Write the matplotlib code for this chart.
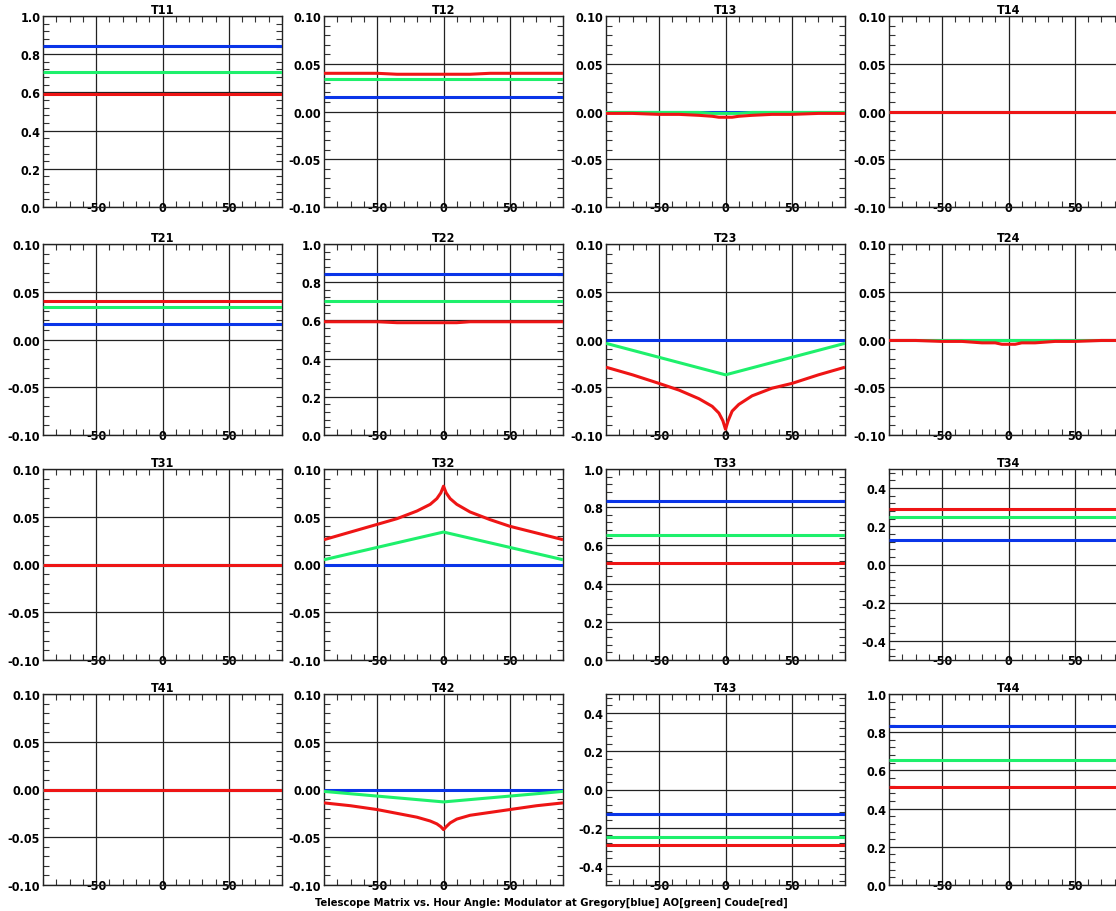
import matplotlib
matplotlib.use('Agg')
import matplotlib.pyplot as plt
from matplotlib.ticker import AutoMinorLocator, FormatStrFormatter

plt.rcParams['font.family'] = ['Liberation Sans Narrow', 'DejaVu Sans']
plt.rcParams['font.weight'] = 'bold'
plt.rcParams['font.stretch'] = 'condensed'
plt.rcParams['axes.unicode_minus'] = False

# hour angle samples (deg)
ha_ends = [-90, 90]
ha_v = [-90, 0, 90]
ha_fine = [-90, -70, -50, -35, -20, -10, -5, -2, 0, 2, 5, 10, 20, 35, 50, 70, 90]

# row 1
t11_blue = [0.842, 0.842]
t11_green = [0.706, 0.706]
t11_red = [0.594, 0.594]

t12_blue = [0.015, 0.015]
t12_green = [0.034, 0.034]
t12_red = [0.040, 0.040, 0.040, 0.039, 0.039, 0.039, 0.039, 0.039, 0.039,
           0.039, 0.039, 0.039, 0.039, 0.040, 0.040, 0.040, 0.040]

t13_blue = [0.0, 0.0]
t13_green = [-0.001, -0.001, -0.001, -0.001, -0.001, -0.002, -0.002, -0.002, -0.002,
             -0.002, -0.002, -0.002, -0.001, -0.001, -0.001, -0.001, -0.001]
t13_red = [-0.002, -0.002, -0.003, -0.003, -0.004, -0.005, -0.006, -0.006, -0.006,
           -0.006, -0.006, -0.005, -0.004, -0.003, -0.003, -0.002, -0.002]

t14_blue = [0.0, 0.0]
t14_green = [0.0, 0.0]
t14_red = [0.0, 0.0]

# row 2
t21_blue = [0.016, 0.016]
t21_green = [0.034, 0.034]
t21_red = [0.040, 0.040]

t22_blue = [0.842, 0.842]
t22_green = [0.704, 0.704]
t22_red = [0.593, 0.593, 0.593, 0.588, 0.588, 0.588, 0.588, 0.588, 0.588,
           0.588, 0.588, 0.588, 0.593, 0.593, 0.593, 0.593, 0.593]

t23_blue = [0.0, 0.0]
t23_green = [-0.004, -0.037, -0.004]
t23_red = [-0.029, -0.037, -0.046, -0.053, -0.062, -0.070, -0.077, -0.085, -0.094,
           -0.085, -0.075, -0.068, -0.059, -0.051, -0.046, -0.037, -0.029]

t24_blue = [0.0, 0.0]
t24_green = [0.0, 0.0]
t24_red = [-0.001, -0.001, -0.002, -0.002, -0.0035, -0.0035, -0.005, -0.005, -0.005,
           -0.005, -0.005, -0.0035, -0.0035, -0.002, -0.002, -0.001, -0.001]

# row 3
t31_blue = [0.0, 0.0]
t31_green = [0.0, 0.0]
t31_red = [0.0, 0.0]

t32_blue = [-0.001, -0.001]
t32_green = [0.005, 0.034, 0.005]
t32_red = [0.026, 0.034, 0.042, 0.048, 0.056, 0.063, 0.069, 0.075, 0.082,
           0.075, 0.069, 0.063, 0.055, 0.047, 0.040, 0.033, 0.026]

t33_blue = [0.83, 0.83]
t33_green = [0.653, 0.653]
t33_red = [0.506, 0.506]

t34_blue = [0.128, 0.128]
t34_green = [0.251, 0.251]
t34_red = [0.290, 0.290]

# row 4
t41_blue = [0.0, 0.0]
t41_green = [0.0, 0.0]
t41_red = [0.0, 0.0]

t42_blue = [-0.001, -0.001]
t42_green = [-0.002, -0.013, -0.002]
t42_red = [-0.014, -0.017, -0.021, -0.025, -0.029, -0.033, -0.036, -0.039, -0.042,
           -0.039, -0.035, -0.031, -0.027, -0.024, -0.021, -0.017, -0.014]

t43_blue = [-0.127, -0.127]
t43_green = [-0.250, -0.250]
t43_red = [-0.289, -0.289]

t44_blue = [0.833, 0.833]
t44_green = [0.657, 0.657]
t44_red = [0.515, 0.515]

BLUE = '#0a35e8'
GREEN = '#1ef06c'
RED = '#ee1515'


def pick_x(vals):
    if len(vals) == 2:
        return ha_ends
    if len(vals) == 3:
        return ha_v
    return ha_fine


panels = [
    ('T11', 'unit', t11_blue, t11_green, t11_red),
    ('T12', 'small', t12_blue, t12_green, t12_red),
    ('T13', 'small', t13_blue, t13_green, t13_red),
    ('T14', 'small', t14_blue, t14_green, t14_red),
    ('T21', 'small', t21_blue, t21_green, t21_red),
    ('T22', 'unit', t22_blue, t22_green, t22_red),
    ('T23', 'small', t23_blue, t23_green, t23_red),
    ('T24', 'small', t24_blue, t24_green, t24_red),
    ('T31', 'small', t31_blue, t31_green, t31_red),
    ('T32', 'small', t32_blue, t32_green, t32_red),
    ('T33', 'unit', t33_blue, t33_green, t33_red),
    ('T34', 'half', t34_blue, t34_green, t34_red),
    ('T41', 'small', t41_blue, t41_green, t41_red),
    ('T42', 'small', t42_blue, t42_green, t42_red),
    ('T43', 'half', t43_blue, t43_green, t43_red),
    ('T44', 'unit', t44_blue, t44_green, t44_red),
]

W, H = 1116, 912
fig = plt.figure(figsize=(W / 100, H / 100), dpi=100)

col_left = [43, 324, 606, 889]
row_top = [17, 245, 470, 695]
ax_w, ax_h = 239, 191

for i, (name, kind, blue, green, red) in enumerate(panels):
    r, c = divmod(i, 4)
    ax = fig.add_axes([col_left[c] / W, 1 - (row_top[r] + ax_h) / H, ax_w / W, ax_h / H])

    ax.plot(pick_x(blue), blue, color=BLUE, lw=2.2, solid_capstyle='butt', zorder=3)
    ax.plot(pick_x(green), green, color=GREEN, lw=2.2, solid_capstyle='butt', zorder=4)
    ax.plot(pick_x(red), red, color=RED, lw=2.2, solid_capstyle='butt', zorder=5)

    ax.set_xlim(-90, 90)
    ax.set_xticks([-50, 0, 50])
    if kind == 'unit':
        ax.set_ylim(0, 1.0)
        ax.set_yticks([0.0, 0.2, 0.4, 0.6, 0.8, 1.0])
        ax.yaxis.set_major_formatter(FormatStrFormatter('%.1f'))
    elif kind == 'half':
        ax.set_ylim(-0.5, 0.5)
        ax.set_yticks([-0.4, -0.2, 0.0, 0.2, 0.4])
        ax.yaxis.set_major_formatter(FormatStrFormatter('%.1f'))
    else:
        ax.set_ylim(-0.1, 0.1)
        ax.set_yticks([-0.10, -0.05, 0.0, 0.05, 0.10])
        ax.yaxis.set_major_formatter(FormatStrFormatter('%.2f'))

    ax.xaxis.set_minor_locator(AutoMinorLocator(5))
    ax.yaxis.set_minor_locator(AutoMinorLocator(5))
    ax.grid(True, which='major', color='#222222', lw=0.9, zorder=1)
    ax.tick_params(which='major', length=0, labelsize=9)
    ax.tick_params(axis='x', which='major', pad=-4)
    ax.tick_params(axis='y', which='major', pad=2)
    ax.tick_params(which='minor', direction='in', length=4, width=0.8,
                   top=True, right=True, color='#333333')
    for sp in ax.spines.values():
        sp.set_linewidth(1.0)
        sp.set_color('#222222')
    ax.set_title(name, fontsize=9, fontweight='bold', pad=2)

fig.text(551 / W, 1 - 903 / H,
         'Telescope Matrix vs. Hour Angle: Modulator at Gregory[blue] AO[green] Coude[red]',
         ha='center', va='center', fontsize=8, fontweight='bold')

fig.savefig('out.png', dpi=100)
